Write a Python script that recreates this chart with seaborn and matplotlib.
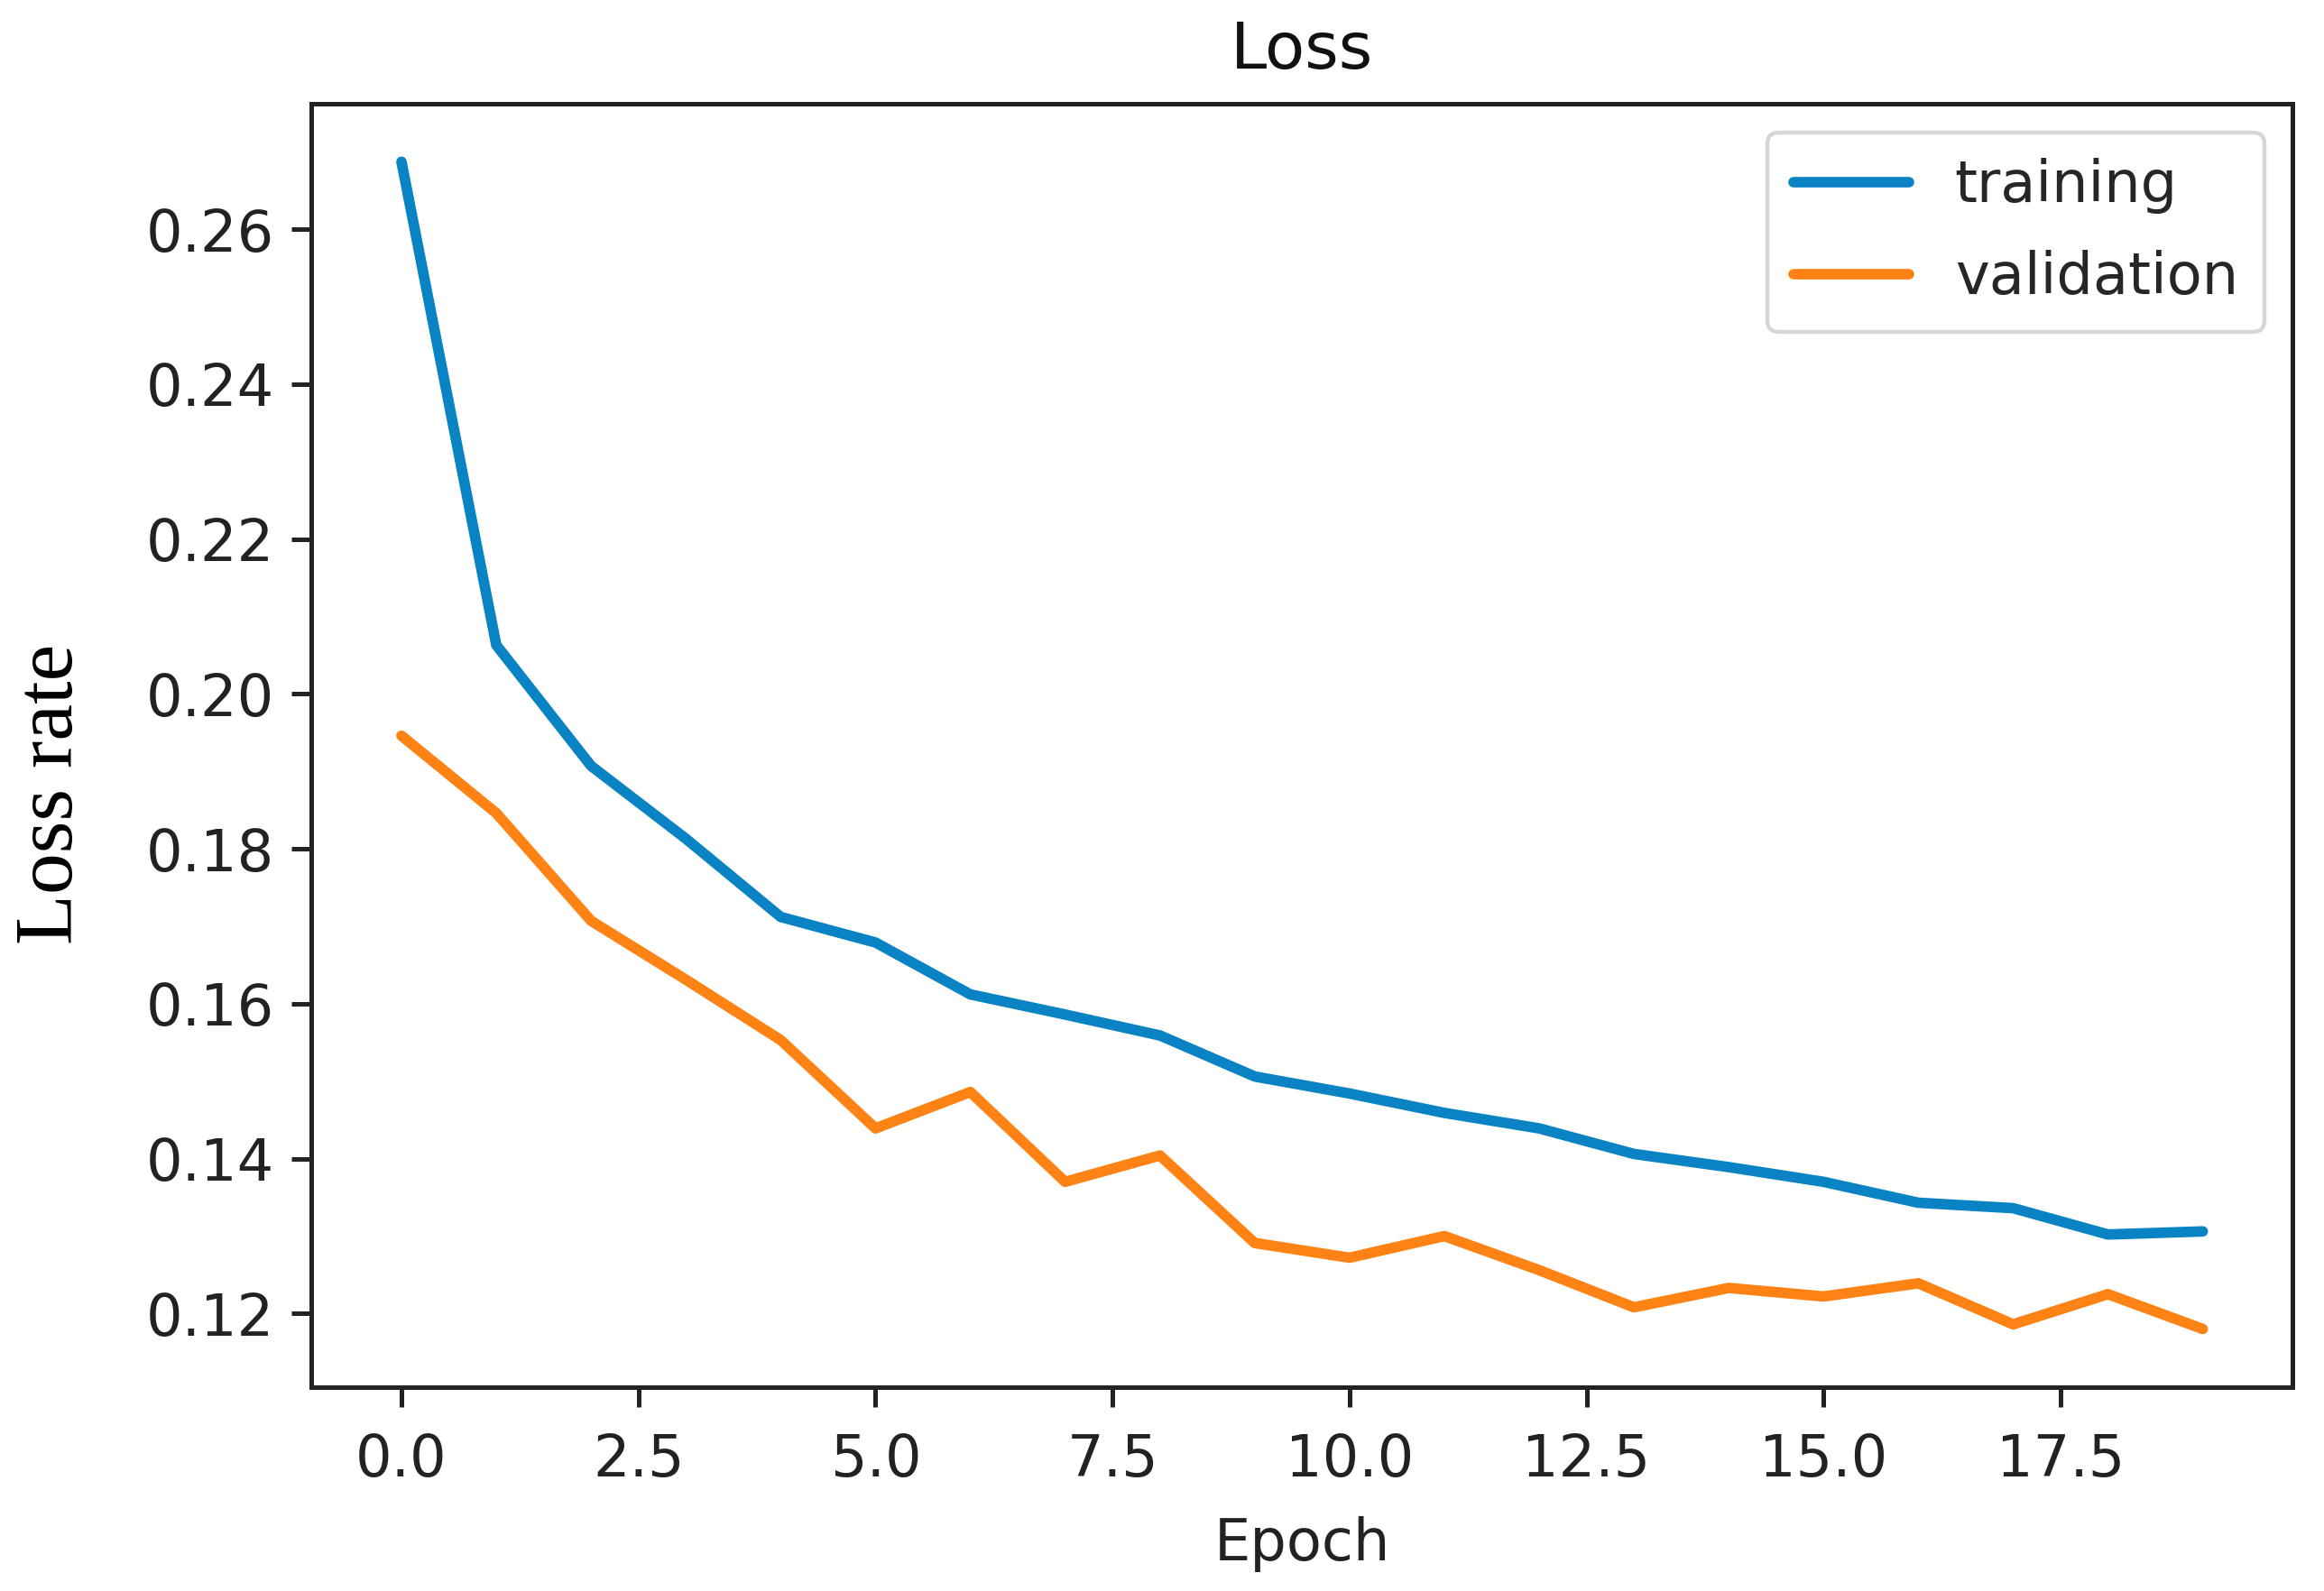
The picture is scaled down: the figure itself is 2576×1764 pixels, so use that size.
import numpy as np
import pandas as pd
import seaborn as sns
import matplotlib
matplotlib.use('Agg')
import matplotlib.pyplot as plt

# values
epochs = list(range(20))
training_loss = [0.2687, 0.2063, 0.1907, 0.1813, 0.1712, 0.1679, 0.1612, 0.1586, 0.1559, 0.1506,
                 0.1484, 0.1459, 0.1439, 0.1406, 0.1389, 0.1370, 0.1343, 0.1336, 0.1302, 0.1306]
validation_loss = [0.1946, 0.1846, 0.1707, 0.1631, 0.1553, 0.1439, 0.1486, 0.1370, 0.1404, 0.1291,
                   0.1272, 0.1300, 0.1256, 0.1208, 0.1233, 0.1222, 0.1239, 0.1186, 0.1225, 0.1180]
series_names = ['training', 'validation']
series_colors = ['#0a83c4', '#ff8214']

sns.set_theme(style='ticks')
plt.rcParams['font.family'] = ['DejaVu Sans']

loss_df = pd.DataFrame({'Epoch': epochs, 'training': training_loss, 'validation': validation_loss})

fig = plt.figure(figsize=(12.88, 8.82), dpi=200)
ax = fig.add_axes([0.134, 0.128, 0.8526, 0.807])

for name, color in zip(series_names, series_colors):
    sns.lineplot(x='Epoch', y=name, data=loss_df, color=color, linewidth=4.2, label=name, ax=ax)

ax.set_xlim(-0.95, 19.95)
ax.set_xticks([0.0, 2.5, 5.0, 7.5, 10.0, 12.5, 15.0, 17.5])
ax.set_xticklabels(['0.0', '2.5', '5.0', '7.5', '10.0', '12.5', '15.0', '17.5'])
ax.set_yticks([0.12, 0.14, 0.16, 0.18, 0.20, 0.22, 0.24, 0.26])
ax.set_yticklabels(['0.12', '0.14', '0.16', '0.18', '0.20', '0.22', '0.24', '0.26'])

ax.tick_params(axis='both', labelsize=23, length=8, width=1.8, color='#222222', labelcolor='#222222')
ax.tick_params(axis='x', pad=10)
ax.tick_params(axis='y', pad=7)
for sp in ax.spines.values():
    sp.set_linewidth(1.8)
    sp.set_color('#222222')

ax.set_title('Loss', fontsize=26, color='#111111', pad=14)
ax.set_xlabel('Epoch', fontsize=23, color='#222222', labelpad=11)
ax.set_ylabel('Loss rate', fontsize=33, family=['Liberation Serif', 'DejaVu Serif'], color='black')
ax.yaxis.set_label_coords(-0.112, 0.462)

leg = ax.legend(loc='upper right', fontsize=23, frameon=True, handlelength=2.0,
                borderpad=0.45, labelspacing=0.62, borderaxespad=0.5)
leg.get_frame().set_edgecolor('#cccccc')
leg.get_frame().set_linewidth(1.6)

plt.savefig('out.png', dpi=200)
